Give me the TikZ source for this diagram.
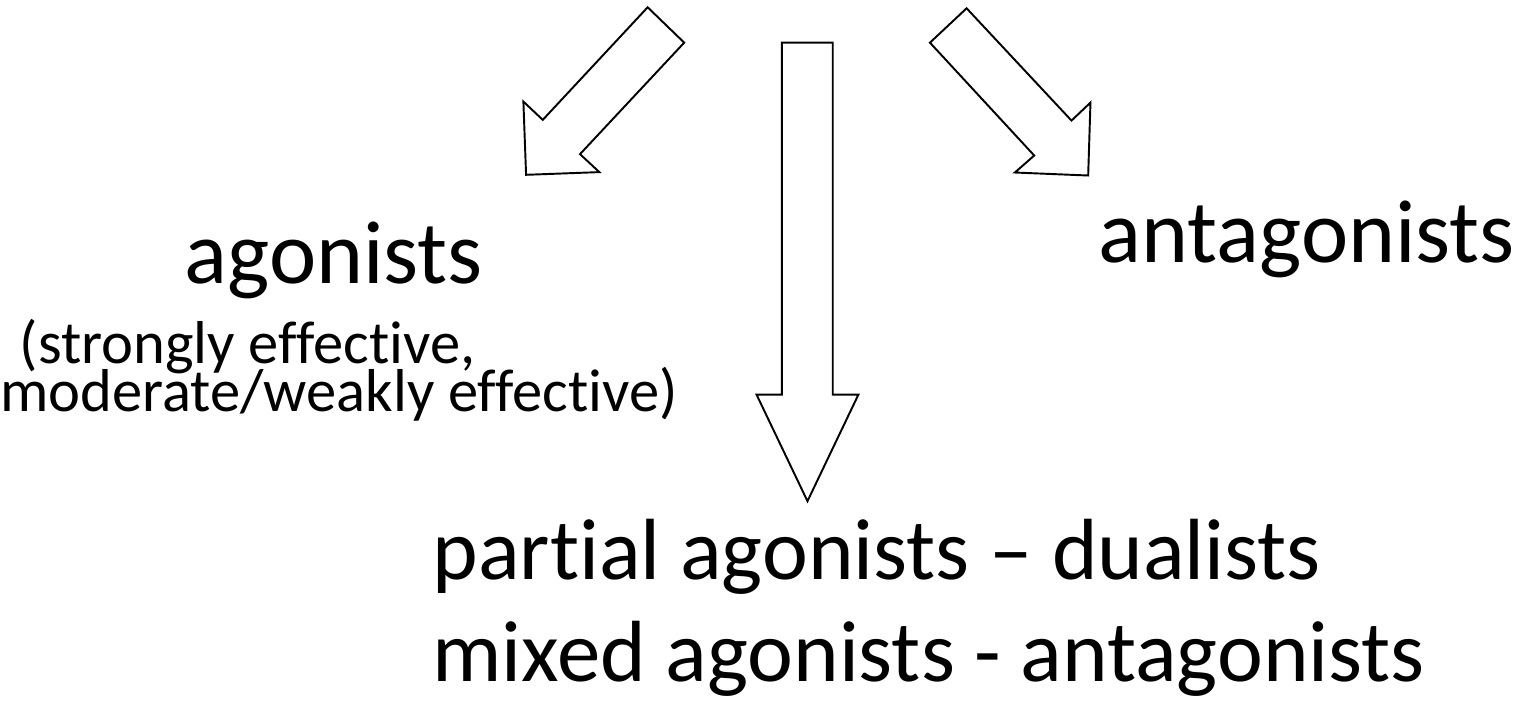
\documentclass[tikz,border=0pt]{standalone}
\usepackage{fontspec}
\setmainfont{Carlito}[Ligatures=NoCommon]
\tikzset{
  blockarrow/.style={draw, line width=1.1pt, line join=miter, fill=white},
  bigtext/.style={inner sep=0pt, anchor=base west, font=\fontsize{51}{60}\selectfont},
  lowtext/.style={inner sep=0pt, anchor=base west, font=\fontsize{49.5}{58}\selectfont},
  smalltext/.style={inner sep=0pt, anchor=base west, font=\fontsize{34.5}{27}\selectfont}
}
\begin{document}
\begin{tikzpicture}[x=0.02cm,y=-0.02cm]
  \fill[white] (0,0) rectangle (1524,703);
  % three block arrows
  \draw[blockarrow] (646.7,7.3)--(683.3,42.7)--(579,154.3)--(598.3,172.3)--(525,175)--(522.3,101.7)--(541.7,120)--cycle;
  \draw[blockarrow] (781,42.7)--(832,42.7)--(832,395)--(857.7,395)--(806.7,501.7)--(755.7,395)--(781,395)--cycle;
  \draw[blockarrow] (966,8.3)--(929.3,42.7)--(1033.7,155.7)--(1014.3,172.7)--(1087.7,175.7)--(1090,102.7)--(1071,120.7)--cycle;
  % labels
  \node[bigtext] (ago) at (183,284) {agonists};
  \node[smalltext] (sub1) at (18,364) {(strongly effective,};
  \node[smalltext] (sub2) at (-2,412) {moderate/weakly effective)};
  \node[bigtext] (anta) at (1098,263) {antagonists};
  \node[lowtext] (part) at (431,580) {partial agonists – dualists};
  \node[lowtext] (mixed) at (431,682) {mixed agonists - antagonists};
\end{tikzpicture}
\end{document}
